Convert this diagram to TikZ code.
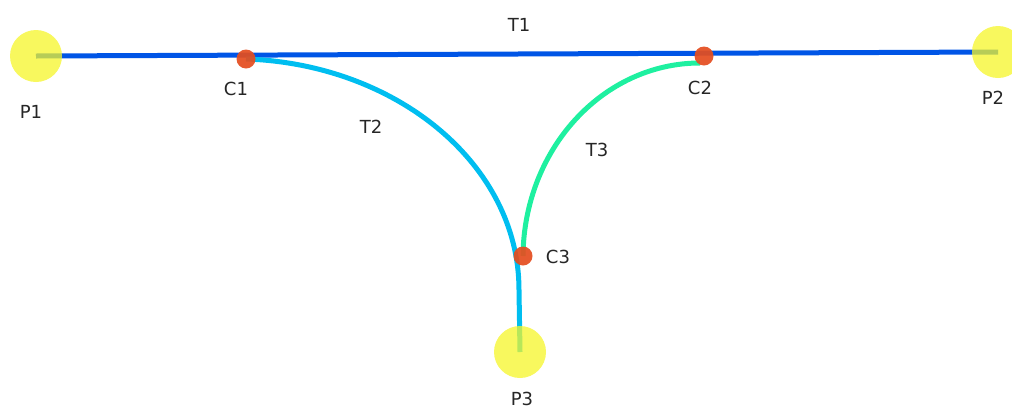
\documentclass[tikz,border=0pt]{standalone}
\usepackage{fontspec}
\setmainfont{DejaVu Sans}
\usepackage{tikz}

\begin{document}
\begin{tikzpicture}[x=1pt,y=-1pt,
  track/.style={line width=5pt},
  port/.style={circle,fill={rgb,255:red,245;green,245;blue,40},fill opacity=0.75,minimum size=52pt,inner sep=0pt},
  joint/.style={circle,fill={rgb,255:red,228;green,78;blue,32},opacity=0.93,minimum size=19pt,inner sep=0pt},
  lbl/.style={font=\fontsize{18}{20}\selectfont,inner sep=0pt,text=black!85}]
  \useasboundingbox (0,0) rectangle (1012,408);
  % end points and junctions
  \coordinate (p1) at (36,56);
  \coordinate (p2) at (998,52);
  \coordinate (p3) at (520,352);
  \coordinate (c1) at (246,59);
  \coordinate (c2) at (704,56);
  \coordinate (c3) at (523,256);
  % tracks
  \draw[track,draw={rgb,255:red,0;green,85;blue,230}] (p1) -- (p2);
  \draw[track,draw={rgb,255:red,0;green,190;blue,240}] (c1) .. controls (396,64) and (519,164) .. (519,290) -- (p3);
  \draw[track,draw={rgb,255:red,30;green,240;blue,160}] (700,63) .. controls (603,63) and (524,149) .. (c3);
  % nodes
  \foreach \c in {1,2,3} { \node[joint] (j\c) at (c\c) {}; }
  \foreach \p in {1,2,3} { \node[port] (s\p) at (p\p) {}; }
  % labels
  \node[lbl] (t1) at (519,25) {T1};
  \node[lbl] (t2) at (371,127) {T2};
  \node[lbl] (t3) at (597,150) {T3};
  \node[lbl] (l1) at (236,89) {C1};
  \node[lbl] (l2) at (700,88) {C2};
  \node[lbl] (l3) at (558,257) {C3};
  \node[lbl] (m1) at (31,112) {P1};
  \node[lbl] (m2) at (993,98) {P2};
  \node[lbl] (m3) at (522,399) {P3};
\end{tikzpicture}
\end{document}
